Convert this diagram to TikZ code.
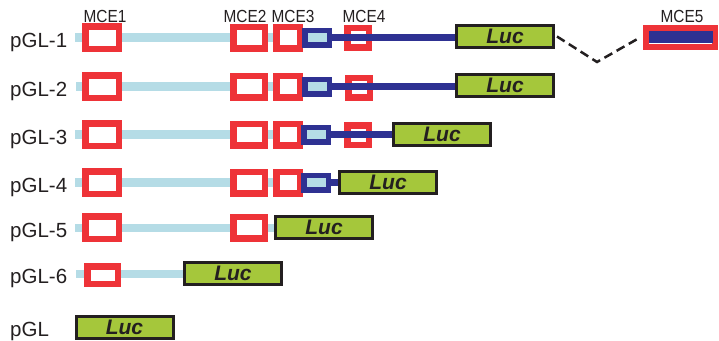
\documentclass[tikz,border=0pt]{standalone}
\usepackage{fontspec}
\setmainfont{Liberation Sans}
\newfontfamily\narrowfont{Liberation Sans}[FakeStretch=0.88]
\usetikzlibrary{backgrounds}
\definecolor{mcered}{HTML}{EE3338}
\definecolor{lightline}{HTML}{B5DCE6}
\definecolor{darkline}{HTML}{2E3192}
\definecolor{lucgreen}{HTML}{A5C73B}
\definecolor{inkgray}{HTML}{231F20}
\begin{document}
\begin{tikzpicture}[x=1pt,y=-1pt,
  mcebox/.style={draw=mcered, line width=6.5pt, fill=white, inner sep=0pt},
  mceone/.style={mcebox, minimum width=33.5pt, minimum height=22.5pt},
  mcetwo/.style={mcebox, minimum width=31.5pt, minimum height=21.5pt},
  mcethree/.style={mcebox, minimum width=23.5pt, minimum height=21.5pt},
  mcefour/.style={draw=mcered, line width=6.5pt, inner sep=0pt, minimum width=21.5pt, minimum height=19.5pt},
  darkbox/.style={draw=darkline, line width=5.5pt, fill=lightline, inner sep=0pt, minimum width=24.5pt, minimum height=14.5pt},
  lucbox/.style={draw=inkgray, line width=3pt, fill=lucgreen, inner sep=0pt, minimum width=97pt, minimum height=22pt,
    text=inkgray, font=\fontsize{21}{21}\selectfont\bfseries\itshape},
  rowlabel/.style={anchor=base west, inner sep=0pt, text=inkgray, font=\fontsize{20.5}{20.5}\selectfont},
  mcelabel/.style={anchor=base, inner sep=0pt, text=inkgray, font=\narrowfont\fontsize{17.5}{17.5}\selectfont},
  lightcon/.style={draw=lightline, line width=8.5pt},
  darkcon/.style={draw=darkline, line width=7.5pt},
  dashcon/.style={draw=inkgray, line width=2.5pt, dash pattern=on 9pt off 5pt}
]
\useasboundingbox (0,0) rectangle (719,340);

% MCE labels
\node[mcelabel] (l1) at (105,22) {MCE1};
\node[mcelabel] (l2) at (245,22) {MCE2};
\node[mcelabel] (l3) at (293,22) {MCE3};
\node[mcelabel] (l4) at (364,22) {MCE4};
\node[mcelabel] (l5) at (682,22) {MCE5};

% row labels
\node[rowlabel] (r1) at (10,47) {pGL-1};
\node[rowlabel] (r2) at (10,96) {pGL-2};
\node[rowlabel] (r3) at (10,144) {pGL-3};
\node[rowlabel] (r4) at (10,192) {pGL-4};
\node[rowlabel] (r5) at (10,237) {pGL-5};
\node[rowlabel] (r6) at (10,283.5) {pGL-6};
\node[rowlabel] (r7) at (10,336) {pGL};

% start points of the light lines
\coordinate (s1) at (75,37.5);
\coordinate (s2) at (76,86.5);
\coordinate (s3) at (75,134.5);
\coordinate (s4) at (75,182.5);
\coordinate (s5) at (75,228);
\coordinate (s6) at (76,274);

% row 1
\node[mceone] (a1) at (102,37.5) {};
\node[mcetwo] (b1) at (249,37.5) {};
\node[mcethree] (c1) at (288,37.5) {};
\node[darkbox] (d1) at (317,37.5) {};
\node[mcefour] (e1) at (358,37.5) {};
\node[lucbox] (luc1) at (505,36.5) {Luc};
% row 2
\node[mceone] (a2) at (102,86.5) {};
\node[mcetwo] (b2) at (249,86.5) {};
\node[mcethree] (c2) at (288,86.5) {};
\node[darkbox] (d2) at (317,86.5) {};
\node[mcefour] (e2) at (359,87.5) {};
\node[lucbox] (luc2) at (505,85.5) {Luc};
% row 3
\node[mceone] (a3) at (102,134.5) {};
\node[mcetwo] (b3) at (249,134.5) {};
\node[mcethree] (c3) at (288,134.5) {};
\node[darkbox] (d3) at (316,134.5) {};
\node[mcefour] (e3) at (358,135) {};
\node[lucbox] (luc3) at (442,134) {Luc};
% row 4
\node[mceone] (a4) at (102,182.5) {};
\node[mcetwo] (b4) at (249,182.5) {};
\node[mcethree] (c4) at (288,182.5) {};
\node[darkbox] (d4) at (316,182.5) {};
\node[lucbox] (luc4) at (388,182) {Luc};
% row 5
\node[mceone] (a5) at (102,227.5) {};
\node[mcetwo] (b5) at (249,227.5) {};
\node[lucbox] (luc5) at (324,227) {Luc};
% row 6
\node[mcebox, minimum width=30.5pt, minimum height=17.5pt] (a6) at (102.5,275) {};
\node[lucbox] (luc6) at (233,273) {Luc};
% row 7
\node[lucbox] (luc7) at (124.5,327) {Luc};

% MCE5
\node[mcebox, line width=6pt, minimum width=69pt, minimum height=19pt] (m5) at (680.5,37.5) {};
\node[fill=darkline, inner sep=0pt, minimum width=64pt, minimum height=11.5pt] (m5in) at (681,36.75) {};

% connectors
\begin{pgfonlayer}{background}
\draw[lightcon] (s1) -- (d1.center);
\draw[lightcon] (s2) -- (d2.center);
\draw[lightcon] (s3) -- (d3.center);
\draw[lightcon] (s4) -- (d4.center);
\draw[lightcon] (s5) -- (luc5.west |- s5);
\draw[lightcon] (s6) -- (luc6.west |- s6);
\end{pgfonlayer}
\draw[darkcon] (d1.east) -- (e1.center) -- (luc1.west |- d1.east);
\draw[darkcon] (d2.east) -- (e2.center |- d2.east) -- (luc2.west |- d2.east);
\draw[darkcon] (d3.east) -- (e3.center |- d3.east) -- (luc3.west |- d3.east);
\draw[darkcon] (d4.east) -- (luc4.west |- d4.east);
\coordinate (dip) at (597,62);
\draw[dashcon] ([xshift=2pt]luc1.east) -- (dip) -- ([xshift=-3pt]m5.west);
\end{tikzpicture}
\end{document}
